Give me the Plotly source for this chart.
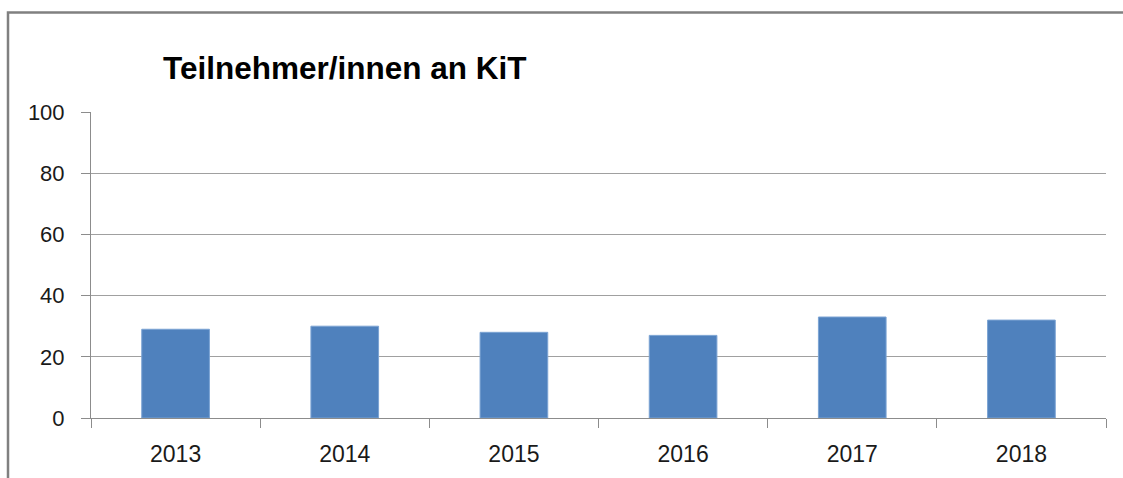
import plotly.graph_objects as go

years = ["2013", "2014", "2015", "2016", "2017", "2018"]
teilnehmer = [29, 30, 28, 27, 33, 32]
y_ticks = [0, 20, 40, 60, 80, 100]

fig = go.Figure()

fig.add_trace(
    go.Bar(
        x=years,
        y=teilnehmer,
        marker=dict(color="#4F81BD", line=dict(color="#7BA3D3", width=1)),
        showlegend=False,
    )
)

fig.update_layout(
    width=1123,
    height=478,
    margin=dict(l=91, r=17, t=112, b=60),
    paper_bgcolor="white",
    plot_bgcolor="white",
    bargap=0.6,
    font=dict(family="Liberation Sans, Arial, sans-serif", size=22, color="#1a1a1a"),
    title=dict(
        text="<b>Teilnehmer/innen an KiT</b>",
        x=163 / 1123,
        xanchor="left",
        y=1 - 68 / 478,
        yanchor="middle",
        font=dict(size=31.5, color="black"),
    ),
    xaxis=dict(
        showline=True,
        linecolor="#8c8c8c",
        linewidth=1,
        ticks="outside",
        tickson="boundaries",
        ticklen=9,
        tickcolor="#8c8c8c",
        showgrid=False,
        tickfont=dict(size=23),
        ticklabelstandoff=15,
    ),
    yaxis=dict(
        range=[0, 100],
        tickvals=y_ticks,
        showline=True,
        linecolor="#8c8c8c",
        linewidth=1,
        ticks="outside",
        ticklen=9,
        tickcolor="#8c8c8c",
        showgrid=True,
        gridcolor="#a0a0a0",
        gridwidth=1,
        zeroline=False,
        ticklabelstandoff=12,
    ),
    shapes=[
        dict(
            type="rect",
            xref="paper",
            yref="paper",
            x0=(8 - 91) / 1015,
            x1=(1140 - 91) / 1015,
            y0=(418 - 500) / 306,
            y1=(418 - 12.5) / 306,
            line=dict(color="#808080", width=2.5),
            layer="below",
        )
    ],
)

fig.write_html(
    "out.html",
    config={"displayModeBar": False},
    post_script="document.body.style.margin='0';",
)
